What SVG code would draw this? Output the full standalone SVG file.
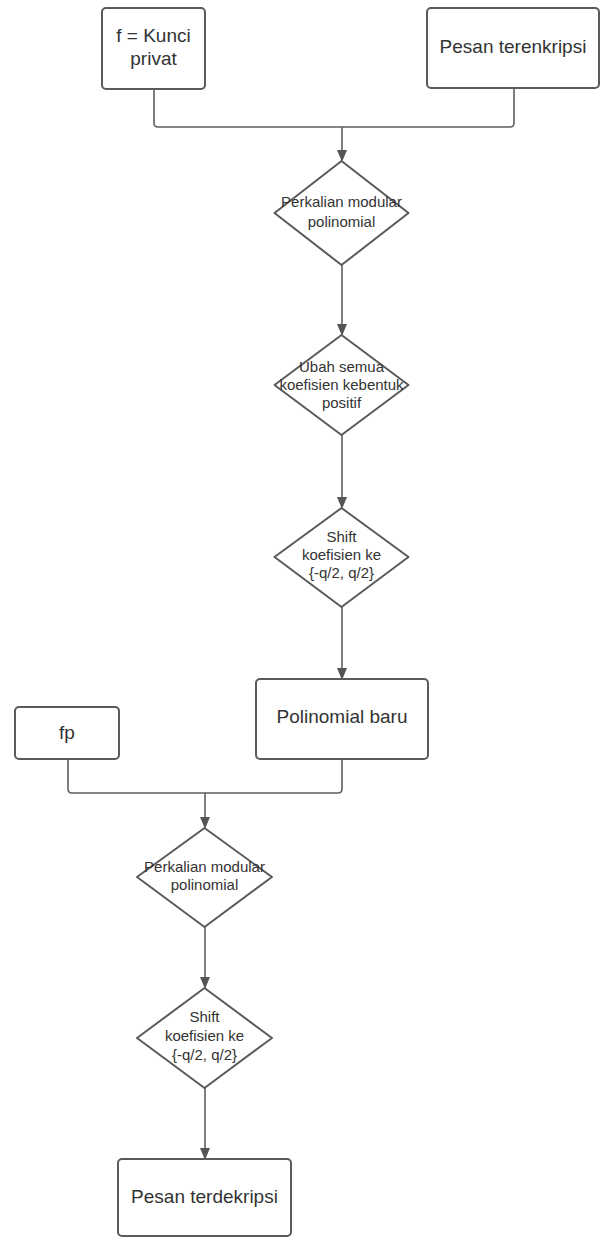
<svg xmlns="http://www.w3.org/2000/svg" width="603" height="1238" viewBox="0 0 603 1238">
<style>
.box{fill:#fff;stroke:#5a5a5a;stroke-width:2}
.dia{fill:#fff;stroke:#5a5a5a;stroke-width:2;stroke-linejoin:round}
.conn{fill:none;stroke:#5f5f5f;stroke-width:1.6}
.bt{font-family:"Liberation Sans",Arial,sans-serif;font-size:19px;fill:#333;text-anchor:middle}
.dt{font-family:"Liberation Sans",Arial,sans-serif;font-size:15px;fill:#333;text-anchor:middle}
</style>
<defs>
<marker id="arr" markerUnits="userSpaceOnUse" markerWidth="12" markerHeight="14" refX="10" refY="5" orient="auto" viewBox="0 0 12 10">
<path d="M0,0 L12,5 L0,10 Z" fill="#555"/>
</marker>
</defs>
<g id="connectors">
<path class="conn" d="M154 89 V123 Q154 127 158 127 H510 Q514 127 514 123 V88"/>
<path class="conn" d="M342 127 V160" marker-end="url(#arr)"/>
<path class="conn" d="M342 265 V334" marker-end="url(#arr)"/>
<path class="conn" d="M342 435 V507" marker-end="url(#arr)"/>
<path class="conn" d="M342 607 V678" marker-end="url(#arr)"/>
<path class="conn" d="M68 759 V789 Q68 793 72 793 H338 Q342 793 342 789 V759"/>
<path class="conn" d="M205 793 V827" marker-end="url(#arr)"/>
<path class="conn" d="M205 927 V987" marker-end="url(#arr)"/>
<path class="conn" d="M205 1088 V1158" marker-end="url(#arr)"/>
</g>
<g id="node-kunci">
<rect class="box" x="102" y="8" width="103" height="81" rx="4"/>
<text class="bt" x="153.5" y="42">f = Kunci</text>
<text class="bt" x="153.5" y="65">privat</text>
</g>
<g id="node-pesan-enkripsi">
<rect class="box" x="427" y="8" width="172" height="80" rx="4"/>
<text class="bt" x="513" y="53">Pesan terenkripsi</text>
</g>
<g id="node-perkalian1">
<polygon class="dia" points="341.5,161 408.5,213 341.5,265 274.5,213"/>
<text class="dt" x="341.5" y="207">Perkalian modular</text>
<text class="dt" x="341.5" y="227">polinomial</text>
</g>
<g id="node-ubah">
<polygon class="dia" points="341.5,335 408.5,385 341.5,435 274.5,385"/>
<text class="dt" x="341.5" y="372">Ubah semua</text>
<text class="dt" x="341.5" y="390">koefisien kebentuk</text>
<text class="dt" x="341.5" y="408">positif</text>
</g>
<g id="node-shift1">
<polygon class="dia" points="341.5,508 408.5,557 341.5,607 274.5,557"/>
<text class="dt" x="341.5" y="542">Shift</text>
<text class="dt" x="341.5" y="560">koefisien ke</text>
<text class="dt" x="341.5" y="578">{-q/2, q/2}</text>
</g>
<g id="node-polinomial-baru">
<rect class="box" x="256" y="679" width="172" height="80" rx="4"/>
<text class="bt" x="342" y="723">Polinomial baru</text>
</g>
<g id="node-fp">
<rect class="box" x="15" y="707" width="104" height="52" rx="4"/>
<text class="bt" x="67" y="739">fp</text>
</g>
<g id="node-perkalian2">
<polygon class="dia" points="204.5,828 272,877 204.5,927 137,877"/>
<text class="dt" x="204.5" y="872">Perkalian modular</text>
<text class="dt" x="204.5" y="890">polinomial</text>
</g>
<g id="node-shift2">
<polygon class="dia" points="204.5,988 272,1038 204.5,1088 137,1038"/>
<text class="dt" x="204.5" y="1022">Shift</text>
<text class="dt" x="204.5" y="1041">koefisien ke</text>
<text class="dt" x="204.5" y="1060">{-q/2, q/2}</text>
</g>
<g id="node-pesan-dekripsi">
<rect class="box" x="118" y="1159" width="173" height="77" rx="4"/>
<text class="bt" x="204.5" y="1203">Pesan terdekripsi</text>
</g>
</svg>
